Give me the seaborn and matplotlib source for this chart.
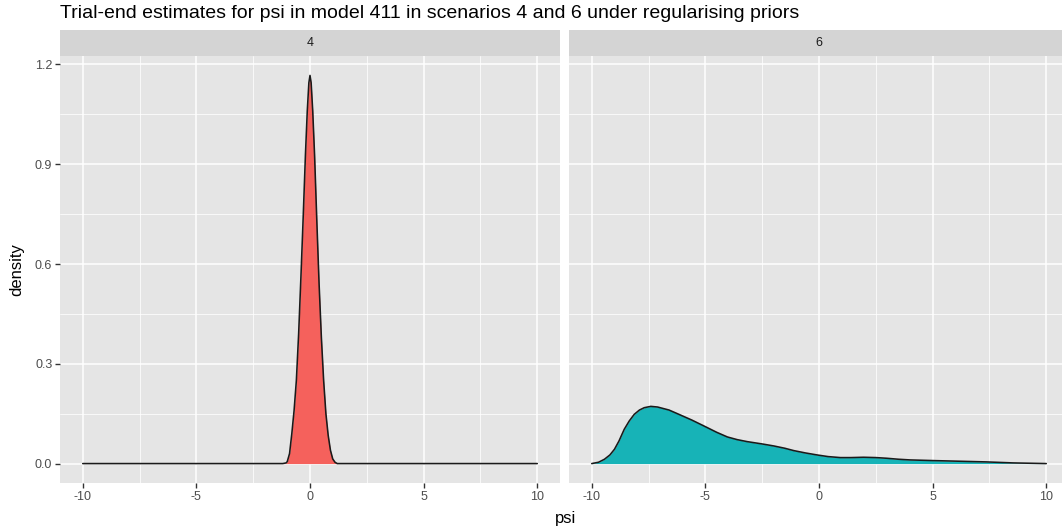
import matplotlib
matplotlib.use("Agg")
import matplotlib.pyplot as plt
import seaborn as sns
import numpy as np

# Kernel density of the trial-end psi estimates, one facet per scenario
scenarios = ["4", "6"]

psi_s4 = [-10.0, -1.2, -1.05, -1.0, -0.9, -0.8, -0.7, -0.6, -0.5, -0.4, -0.3, -0.2,
          -0.12, -0.05, 0.0, 0.05, 0.12, 0.2, 0.3, 0.4, 0.5, 0.6, 0.7, 0.8, 0.9,
          1.0, 1.1, 1.2, 10.0]
dens_s4 = [0.0, 0.0, 0.002, 0.006, 0.03, 0.09, 0.16, 0.25, 0.39, 0.56, 0.74, 0.93,
           1.06, 1.145, 1.167, 1.145, 1.06, 0.93, 0.73, 0.54, 0.38, 0.25, 0.15, 0.085,
           0.04, 0.014, 0.004, 0.0, 0.0]

psi_s6 = [-10.0, -9.7, -9.44, -9.2, -9.0, -8.8, -8.57, -8.35, -8.13, -7.9, -7.69,
          -7.4, -7.1, -6.6, -6.23, -5.6, -5.06, -4.5, -4.03, -3.6, -3.16, -2.5, -1.99,
          -1.5, -1.11, -0.6, -0.09, 0.4, 0.94, 1.4, 1.96, 2.5, 2.98, 3.5, 4.0, 5.03,
          6.2, 7.37, 8.54, 10.0]
dens_s6 = [0.0, 0.004, 0.013, 0.026, 0.043, 0.068, 0.103, 0.128, 0.148, 0.161, 0.168,
           0.172, 0.170, 0.161, 0.150, 0.131, 0.113, 0.094, 0.080, 0.072, 0.066, 0.059,
           0.053, 0.046, 0.039, 0.032, 0.026, 0.021, 0.018, 0.018, 0.019, 0.018, 0.016,
           0.013, 0.011, 0.009, 0.007, 0.005, 0.002, 0.0]

fills = ["#F5615C", "#17B3B7"]

x_ticks = [-10, -5, 0, 5, 10]
y_ticks = [0.0, 0.3, 0.6, 0.9, 1.2]
y_tick_labels = ["0.0", "0.3", "0.6", "0.9", "1.2"]

sns.set_theme(style="darkgrid")
plt.rcParams["font.family"] = ["Liberation Sans", "DejaVu Sans"]

W, H = 1062, 532
fig = plt.figure(figsize=(W / 100, H / 100), dpi=100)
fig.patch.set_facecolor("white")

panel_top, panel_bot = 56, 483
strip_top = 30
panel_x = [(60, 560), (569, 1069)]

def fx(px):
    return px / W

def fy(py):
    return 1 - py / H

curves = [(psi_s4, dens_s4), (psi_s6, dens_s6)]
ymin, ymax = -0.0584, 1.2254

for i, ((x0, x1), (xs, ds)) in enumerate(zip(panel_x, curves)):
    ax = fig.add_axes([fx(x0), fy(panel_bot), fx(x1 - x0), fy(panel_top) - fy(panel_bot)])
    ax.set_facecolor("#E5E5E5")
    ax.fill_between(xs, 0, ds, color=fills[i], linewidth=0, zorder=2)
    sns.lineplot(x=xs, y=ds, color="#1A1A1A", linewidth=1.15, ax=ax, zorder=3,
                 sort=False, estimator=None)
    ax.set_xlim(-11, 11)
    ax.set_ylim(ymin, ymax)

    ax.set_xticks(x_ticks)
    ax.set_xticklabels([str(t) for t in x_ticks])
    ax.set_xticks([-7.5, -2.5, 2.5, 7.5], minor=True)
    ax.set_yticks(y_ticks)
    ax.set_yticks([0.15, 0.45, 0.75, 1.05], minor=True)
    ax.grid(which="major", color="white", linewidth=1.1)
    ax.grid(which="minor", color="white", linewidth=0.55)
    ax.set_axisbelow(True)
    for sp in ax.spines.values():
        sp.set_visible(False)

    ax.tick_params(axis="x", which="major", length=3.5, width=1, color="#333333",
                   labelsize=9, labelcolor="#4D4D4D", pad=2, bottom=True)
    ax.tick_params(axis="both", which="minor", length=0)
    if i == 0:
        ax.set_yticklabels(y_tick_labels)
        ax.tick_params(axis="y", which="major", length=3.5, width=1, color="#333333",
                       labelsize=9, labelcolor="#4D4D4D", pad=2, left=True)
    else:
        ax.tick_params(axis="y", which="major", length=0, labelleft=False)
    ax.set_xlabel("")
    ax.set_ylabel("")

    # facet strip
    sax = fig.add_axes([fx(x0), fy(panel_top), fx(x1 - x0), fy(strip_top) - fy(panel_top)])
    sax.set_facecolor("#D4D4D4")
    sax.set_xticks([])
    sax.set_yticks([])
    for sp in sax.spines.values():
        sp.set_visible(False)
    sax.text(0.5, 0.5, scenarios[i], ha="center", va="center", fontsize=9,
             color="#1A1A1A", transform=sax.transAxes)

fig.text(fx(60), fy(13), "Trial-end estimates for psi in model 411 in scenarios 4 and 6 under regularising priors",
         ha="left", va="center", fontsize=14, color="black")
fig.text(fx(566), fy(518), "psi", ha="center", va="center", fontsize=12, color="black")
fig.text(fx(17), fy(270), "density", ha="center", va="center", rotation=90,
         fontsize=12, color="black")

fig.savefig("out.png", dpi=100, facecolor="white")
